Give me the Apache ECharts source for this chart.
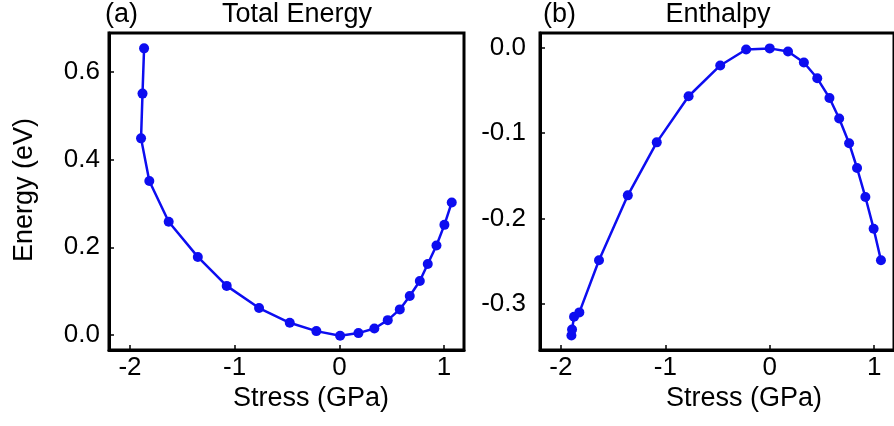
<!DOCTYPE html>
<html>
<head>
    <meta charset="utf-8" />
    <title>Energy vs stress</title>
    <script src="https://cdn.jsdelivr.net/npm/echarts@6/dist/echarts.min.js"></script>
    <style>
        body { margin: 0; background: #fff; }
        #main { width: 894px; height: 426px; }
    </style>
</head>
<body>
<div id="main"></div>
<script>
    // (a) total energy
    let stressA = [-1.865, -1.88, -1.894, -1.815, -1.63, -1.352, -1.076, -0.767, -0.474, -0.22, 0.007,
        0.182, 0.334, 0.462, 0.577, 0.672, 0.768, 0.844, 0.927, 1.003, 1.073]
    let energyA = [0.653, 0.550, 0.448, 0.351, 0.258, 0.178, 0.112, 0.0615, 0.028, 0.009, -0.0015,
        0.0045, 0.015, 0.034, 0.0585, 0.089, 0.123, 0.162, 0.204, 0.251, 0.302]
    // (b) enthalpy
    let stressB = [-1.899, -1.893, -1.874, -1.823, -1.635, -1.359, -1.082, -0.777, -0.474, -0.226, 0,
        0.175, 0.327, 0.455, 0.572, 0.665, 0.76, 0.836, 0.916, 0.995, 1.065]
    let enthalpyB = [-0.337, -0.330, -0.315, -0.310, -0.249, -0.173, -0.111, -0.057, -0.021, -0.0023, -0.001,
        -0.0047, -0.0176, -0.036, -0.059, -0.083, -0.112, -0.141, -0.175, -0.212, -0.249]

    let xTicks = [-2, -1, 0, 1]
    let yTicksA = [0, 0.2, 0.4, 0.6]
    let yTicksB = [-0.3, -0.2, -0.1, 0]

    let font = 'Liberation Sans, Arial, sans-serif'
    let blue = '#0d0df0'

    let chart = echarts.init(document.getElementById('main'))

    function pairs(xs, ys) {
        return xs.map((x, i) => [x, ys[i]])
    }

    function xAxisOf(idx) {
        return {
            type: 'value', gridIndex: idx, min: -2.2, max: 1.19,
            axisLine: { show: true, onZero: false, lineStyle: { color: '#000', width: 3 } },
            axisTick: { show: true, inside: true, length: 5, lineStyle: { color: '#000', width: 1.5 },
                customValues: xTicks },
            axisLabel: { fontSize: 26, color: '#000', fontFamily: font, margin: 5,
                customValues: xTicks,
                formatter: v => String(v) },
            splitLine: { show: false }
        }
    }

    function yAxisOf(idx, min, max, ticks, margin) {
        return {
            type: 'value', gridIndex: idx, min: min, max: max,
            axisLine: { show: true, onZero: false, lineStyle: { color: '#000', width: 3 } },
            axisTick: { show: true, inside: true, length: 5, lineStyle: { color: '#000', width: 1.5 },
                customValues: ticks },
            axisLabel: { fontSize: 26, color: '#000', fontFamily: font, margin: margin,
                customValues: ticks,
                formatter: v => v.toFixed(1) },
            splitLine: { show: false }
        }
    }

    chart.setOption({
        animation: false,
        textStyle: { fontFamily: font },
        grid: [
            { left: 109, right: 430, top: 33, bottom: 76, show: true, borderColor: '#000', borderWidth: 3 },
            { left: 540, right: -3, top: 33, bottom: 76, show: true, borderColor: '#000', borderWidth: 3 }
        ],
        xAxis: [xAxisOf(0), xAxisOf(1)],
        yAxis: [
            yAxisOf(0, -0.034, 0.688, yTicksA, 9),
            yAxisOf(1, -0.354, 0.017, yTicksB, 14)
        ],
        graphic: [
            { type: 'text', left: 105, top: 1, style: { text: '(a)', fontSize: 27, fill: '#000', fontFamily: font } },
            { type: 'text', x: 297, y: 1, style: { text: 'Total Energy', fontSize: 27, fill: '#000', fontFamily: font, align: 'center' } },
            { type: 'text', left: 543, top: 1, style: { text: '(b)', fontSize: 27, fill: '#000', fontFamily: font } },
            { type: 'text', x: 718, y: 1, style: { text: 'Enthalpy', fontSize: 27, fill: '#000', fontFamily: font, align: 'center' } },
            { type: 'text', x: 311, y: 385, style: { text: 'Stress (GPa)', fontSize: 27, fill: '#000', fontFamily: font, align: 'center' } },
            { type: 'text', x: 744, y: 385, style: { text: 'Stress (GPa)', fontSize: 27, fill: '#000', fontFamily: font, align: 'center' } },
            { type: 'text', x: 11, y: 190, rotation: Math.PI / 2,
                style: { text: 'Energy (eV)', fontSize: 27, fill: '#000', fontFamily: font, align: 'center', verticalAlign: 'top' } }
        ],
        series: [
            {
                type: 'line', xAxisIndex: 0, yAxisIndex: 0, data: pairs(stressA, energyA),
                symbol: 'circle', symbolSize: 10, lineStyle: { color: blue, width: 2.5 },
                itemStyle: { color: blue }
            },
            {
                type: 'line', xAxisIndex: 1, yAxisIndex: 1, data: pairs(stressB, enthalpyB),
                symbol: 'circle', symbolSize: 10, lineStyle: { color: blue, width: 2.5 },
                itemStyle: { color: blue }
            }
        ]
    })
</script>
</body>
</html>
